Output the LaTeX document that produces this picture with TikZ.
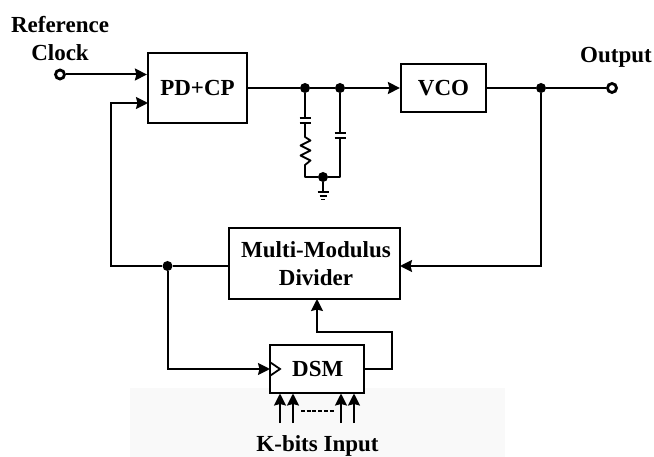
\documentclass[tikz,border=0pt]{standalone}
\usepackage{fontspec}
\setmainfont{Liberation Serif}
\usetikzlibrary{arrows.meta}
\tikzset{
  x=1pt,y=-1pt,
  wire/.style={draw=black,line width=2pt},
  arrow/.style={wire,-{Stealth[length=12pt,width=12pt,inset=1.5pt]}},
  thinwire/.style={draw=black,line width=1.8pt},
  blockbox/.style={draw=black,line width=2.2pt,fill=white,inner sep=0pt,align=center,font=\fontsize{23}{27}\selectfont\bfseries},
  lab/.style={inner sep=0pt,align=center,font=\fontsize{23}{27}\selectfont\bfseries},
  dot/.style={circle,fill=black,inner sep=0pt,minimum size=10pt},
  port/.style={circle,draw=black,line width=2.8pt,fill=white,inner sep=0pt,minimum size=9pt},
}
\begin{document}
\begin{tikzpicture}
\useasboundingbox (0,0) rectangle (654,457);
\fill[black!2.5] (130,388) rectangle (505,457);
% blocks
\node[blockbox,minimum width=99pt,minimum height=70pt] (pd) at (197.5,88) {PD+CP};
\node[blockbox,minimum width=85pt,minimum height=48pt] (vco) at (443.5,88) {VCO};
\node[blockbox,minimum width=171pt,minimum height=71pt] (mmd) at (314.5,263.5) {};
\node[lab] (mmdt) at (316,264) {Multi-Modulus\\[1pt]Divider};
\node[blockbox,minimum width=94pt,minimum height=48pt] (dsm) at (317,369) {\hspace{1.5pt}DSM};
% labels
\node[lab] (refl) at (60,25) {Reference};
\node[lab] (clkl) at (60,52.5) {Clock};
\node[lab] (outl) at (616,57) {Output};
\node[lab] (kb) at (317.5,446) {K-bits Input};
% ports and junctions
\node[port] (in) at (60,74.5) {};
\node[port] (out) at (612,88) {};
\node[dot] (d1) at (305,88) {};
\node[dot] (d2) at (340,88) {};
\node[dot] (d3) at (323,177) {};
\node[dot] (d4) at (541,88) {};
\node[dot] (d5) at (167.5,266) {};
% corner points
\coordinate (pdb) at (148,103);
\coordinate (lc1) at (111,266);
\coordinate (lc2) at (111,103);
\coordinate (mmdr) at (400,266);
\coordinate (rc) at (541,266);
\coordinate (mmdin) at (317,299);
\coordinate (dc1) at (317,332);
\coordinate (dc2) at (392,332);
\coordinate (dc3) at (392,369);
\coordinate (clkin) at (270,369);
\coordinate (lc3) at (167.5,369);
% main connectors
\draw[arrow] (in) -- (in -| pd.west);
\draw[wire] (mmd.west |- d5) -- (d5);
\draw[arrow] (d5) -- (lc1) -- (lc2) -- (pdb);
\draw[wire] (pd.east |- d1) -- (d1) -- (d2);
\draw[arrow] (d2) -- (vco.west);
\draw[wire] (vco.east) -- (d4) -- (out);
\draw[arrow] (d4) -- (rc) -- (mmdr);
\draw[arrow] (d5) -- (lc3) -- (clkin);
\draw[arrow] (dsm.east) -- (dc3) -- (dc2) -- (dc1) -- (mmdin);
% clock mark
\draw[thinwire,line join=miter] (270.5,362.5) -- (280,369) -- (270.5,375.5);
% loop filter
\coordinate (c1a) at (305,118);
\coordinate (c1b) at (305,123);
\coordinate (r1a) at (305,137);
\coordinate (r1b) at (305,165);
\coordinate (bl) at (305,177);
\coordinate (br) at (340,177);
\coordinate (c2a) at (340,133);
\coordinate (c2b) at (340,138);
\coordinate (gnd) at (323,192);
\draw[thinwire] (d1) -- (c1a);
\draw[wire] (299.5,118) -- (310.5,118) (299.5,123) -- (310.5,123);
\draw[thinwire,line join=round] (c1b) -- (r1a) -- (310.5,140.5) -- (300.5,145.5) -- (310.5,150.5) -- (300.5,155.5) -- (310.5,160.5) -- (r1b) -- (bl) -- (d3) -- (br) -- (c2b);
\draw[wire] (334.5,133) -- (345.5,133) (334.5,138) -- (345.5,138);
\draw[thinwire] (d2) -- (c2a);
\draw[thinwire] (d3) -- (gnd);
\draw[thinwire] (317.5,192) -- (328.5,192) (319.5,196) -- (326.5,196) (321,199.5) -- (325,199.5);
% bit inputs
\foreach \n/\x in {a/280,b/293,c/341,d/354}{
  \coordinate (bit\n) at (\x,423);
  \draw[arrow] (bit\n) -- (\x,393.5);
}
\coordinate (dsh1) at (301,411);
\coordinate (dsh2) at (334,411);
\draw[draw=black,line width=2pt,dash pattern=on 4pt off 1.7pt] (dsh1) -- (dsh2);
\end{tikzpicture}
\end{document}
